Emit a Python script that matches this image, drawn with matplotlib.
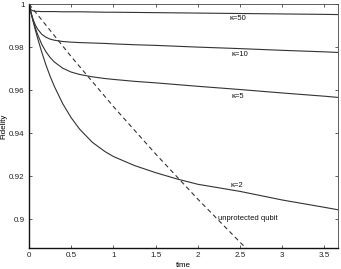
import matplotlib
matplotlib.use("Agg")
import matplotlib.pyplot as plt

# ---- data ----
t = [0, 0.01, 0.02, 0.03, 0.05, 0.075, 0.1, 0.15, 0.2, 0.25, 0.3, 0.4, 0.5,
     0.6, 0.75, 0.9, 1.0, 1.25, 1.5, 1.75, 2.0, 2.5, 3.0, 3.5, 3.67]

f_k50 = [1.0, 0.9986, 0.9977, 0.9972, 0.9968, 0.9966, 0.9966, 0.9965, 0.9965,
         0.9965, 0.9965, 0.9964, 0.9964, 0.9964, 0.9963, 0.9962, 0.9962, 0.9961,
         0.9960, 0.9959, 0.9958, 0.9956, 0.9954, 0.9952, 0.9951]
f_k10 = [1.0, 0.9982, 0.9966, 0.9952, 0.9927, 0.9903, 0.9885, 0.9860, 0.9846,
         0.9837, 0.9832, 0.9826, 0.9823, 0.9821, 0.9819, 0.9817, 0.9815, 0.9811,
         0.9808, 0.9804, 0.9800, 0.9793, 0.9785, 0.9778, 0.9775]
f_k5 = [1.0, 0.9982, 0.9966, 0.9950, 0.9921, 0.9889, 0.9861, 0.9814, 0.9779,
        0.9752, 0.9731, 0.9702, 0.9684, 0.9673, 0.9662, 0.9654, 0.9650, 0.9641,
        0.9634, 0.9626, 0.9618, 0.9603, 0.9587, 0.9572, 0.9566]
f_k2 = [1.0, 0.9983, 0.9966, 0.9950, 0.9918, 0.9880, 0.9844, 0.9778, 0.9718,
        0.9665, 0.9618, 0.9537, 0.9472, 0.9419, 0.9358, 0.9315, 0.9292, 0.9250,
        0.9217, 0.9188, 0.9163, 0.9130, 0.9090, 0.9056, 0.9044]

t_unprot = [0, 0.5, 1.0, 1.5, 2.0, 2.5, 2.6]
f_unprot = [1.0, 0.9756, 0.9524, 0.9304, 0.9094, 0.8894, 0.8855]

curve_labels = ["\u03ba=50", "\u03ba=10", "\u03ba=5", "\u03ba=2"]
label_pos_t = [2.47, 2.50, 2.47, 2.46]
label_pos_f = [0.9933, 0.9765, 0.9570, 0.9156]
unprot_label = "unprotected qubit"

xticks = [0, 0.5, 1, 1.5, 2, 2.5, 3, 3.5]
xticklabels = ["0", "0.5", "1", "1.5", "2", "2.5", "3", "3.5"]
yticks = [0.9, 0.92, 0.94, 0.96, 0.98, 1.0]
yticklabels = ["0.9", "0.92", "0.94", "0.96", "0.98", "1"]

# ---- figure ----
plt.rcParams['font.family'] = ['Liberation Sans', 'DejaVu Sans']
fig = plt.figure(figsize=(3.41, 2.69), dpi=100)
ax = fig.add_axes([0.085, 0.078, 0.906, 0.907])

lc = "#333333"
for f in (f_k50, f_k10, f_k5, f_k2):
    ax.plot(t, f, color=lc, lw=0.8)
ax.plot(t_unprot, f_unprot, color=lc, lw=0.8, ls=(0, (4, 3)))

for lab, tx, fy in zip(curve_labels, label_pos_t, label_pos_f):
    ax.text(tx, fy, lab, fontsize=5.5, ha="center", va="center", color="#111111")
ax.text(2.24, 0.9002, unprot_label, fontsize=5.5, ha="left", va="center",
        color="#111111")

ax.set_xlim(0, 3.66)
ax.set_ylim(0.8867, 1.0)
ax.set_xticks(xticks)
ax.set_xticklabels(xticklabels)
ax.set_yticks(yticks)
ax.set_yticklabels(yticklabels)
ax.tick_params(direction="in", length=2.5, width=0.5, labelsize=5.8,
               top=True, right=True, pad=3, colors="#222222")
for side in ("left", "bottom"):
    ax.spines[side].set_linewidth(1.0)
    ax.spines[side].set_color("#111111")
for side in ("top", "right"):
    ax.spines[side].set_linewidth(0.6)
    ax.spines[side].set_color("#444444")

ax.set_xlabel("time", fontsize=5.8, labelpad=2)
ax.set_ylabel("Fidelity", fontsize=5.8, labelpad=1.5)

fig.savefig("out.png", dpi=100)
